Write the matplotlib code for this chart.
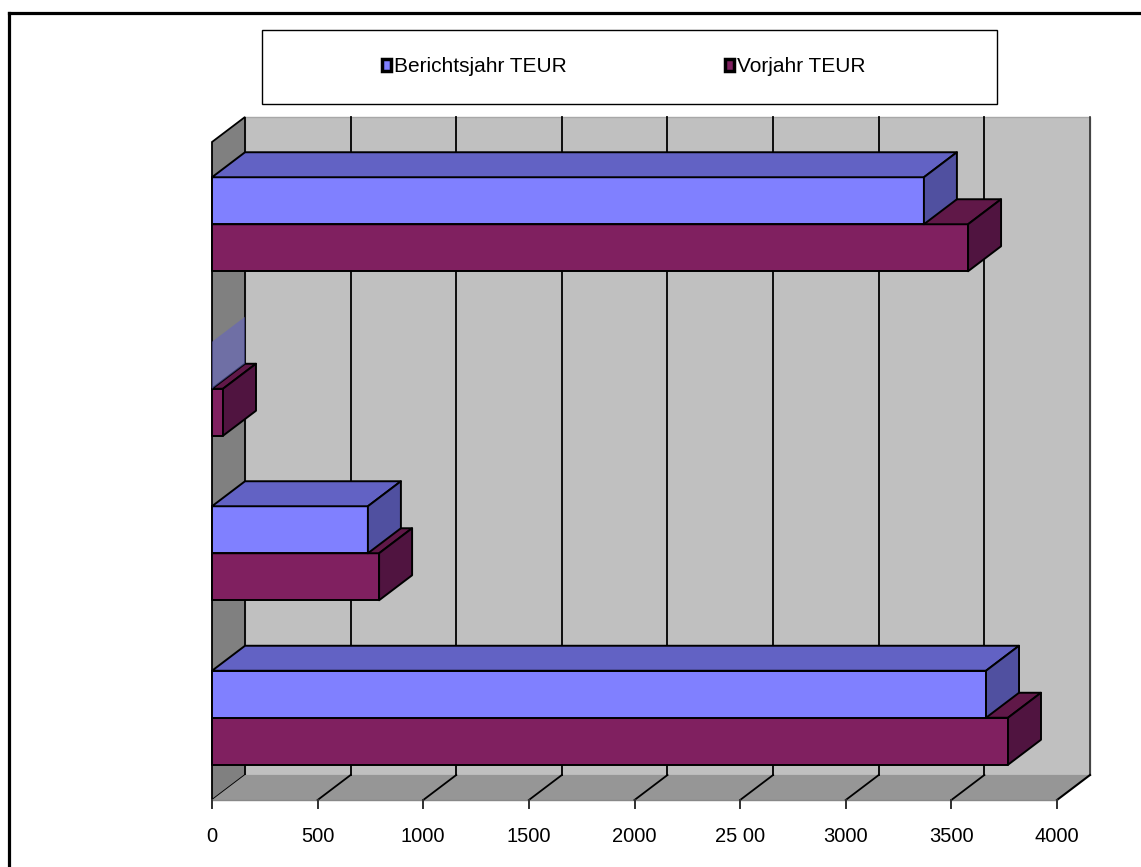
import matplotlib
matplotlib.use('Agg')
import matplotlib.pyplot as plt
from matplotlib.patches import Polygon, Rectangle, Patch
from matplotlib.lines import Line2D

plt.rcParams['font.family'] = ['Liberation Sans', 'DejaVu Sans']

# data (categories from bottom to top, as Excel draws them)
series_names = ['Berichtsjahr TEUR', 'Vorjahr TEUR']
berichtsjahr = [3664, 738, 0, 3370]
vorjahr = [3768, 791, 52, 3579]
ticks = [0, 500, 1000, 1500, 2000, 2500, 3000, 3500, 4000]
tick_labels = ['0', '500', '1000', '1500', '2000', '25 00', '3000', '3500', '4000']

# colours: front, top, side
blue = ('#8080FF', '#6262C4', '#5050A0')
purple = ('#802060', '#601848', '#501440')

W, H = 1141, 867
PX = 0.21125      # pixels per value unit
CAT = 164.5       # pixels per category
X0, YB = 212, 800  # pixel position of the value origin / floor front edge

fig = plt.figure(figsize=(W / 100, H / 100), dpi=100)
ax = fig.add_axes([0, 0, 1, 1])
ax.set_xlim(-X0 / PX, (W - X0) / PX)
ax.set_ylim(-0.5 - (H - YB) / CAT, -0.5 + YB / CAT)
ax.axis('off')

DX = 33 / PX      # depth offset in value units
DY = 25 / CAT     # depth offset in category units
xmax = ticks[-1]
ncat = len(berichtsjahr)
lo, hi = -0.5, ncat - 0.5

# back wall
ax.add_patch(Polygon([(DX, lo + DY), (xmax + DX, lo + DY), (xmax + DX, hi + DY), (DX, hi + DY)],
                     closed=True, facecolor='#C0C0C0', edgecolor='#A8A8A8', lw=1, zorder=1))
ax.plot([xmax + DX, xmax + DX], [lo + DY, hi + DY], color='#303030', lw=1.2, zorder=2)
# left wall
ax.add_patch(Polygon([(0, lo), (0, hi), (DX, hi + DY), (DX, lo + DY)],
                     closed=True, facecolor='#808080', edgecolor='black', lw=1.3, zorder=1))
# floor
ax.add_patch(Polygon([(0, lo), (xmax, lo), (xmax + DX, lo + DY), (DX, lo + DY)],
                     closed=True, facecolor='#969696', edgecolor='none', zorder=1))
ax.plot([xmax, xmax + DX], [lo, lo + DY], color='black', lw=1.5, zorder=2)
ax.plot([0, xmax], [lo, lo], color='#888888', lw=1, zorder=2)

# gridlines on wall and floor
for t in ticks[1:-1]:
    ax.plot([t + DX, t + DX], [lo + DY, hi + DY], color='black', lw=1.3, zorder=2)
    ax.plot([t, t + DX], [lo, lo + DY], color='black', lw=1.3, zorder=2)

# tick marks and labels
for t, lab in zip(ticks, tick_labels):
    ax.plot([t, t], [lo, lo - 8 / CAT], color='#303030', lw=1.4, zorder=2)
    ax.text(t, lo - 37 / CAT, lab, ha='center', va='center', fontsize=14.5, color='black')


def bar3d(v, y0, h, cols, z):
    y1 = y0 + h
    if v <= 0:
        # a zero bar only shows its side face over the left wall
        ax.add_patch(Polygon([(0, y0), (0, y1), (DX, y1 + DY), (DX, y0 + DY)], closed=True,
                             facecolor=cols[1], edgecolor='none', alpha=0.55, zorder=z))
        return
    kw = dict(closed=True, edgecolor='black', lw=1.4, zorder=z, joinstyle='round')
    ax.add_patch(Polygon([(0, y0), (v, y0), (v, y1), (0, y1)], facecolor=cols[0], **kw))
    ax.add_patch(Polygon([(0, y1), (v, y1), (v + DX, y1 + DY), (DX, y1 + DY)], facecolor=cols[1], **kw))
    ax.add_patch(Polygon([(v, y0), (v, y1), (v + DX, y1 + DY), (v + DX, y0 + DY)], facecolor=cols[2], **kw))


bh = 47 / CAT
for i in range(ncat):
    bar3d(vorjahr[i], i - bh, bh, purple, 3 + 2 * i)
    bar3d(berichtsjahr[i], i, bh, blue, 4 + 2 * i)

# legend with its box
fig.patches.append(Rectangle((262 / W, 1 - 104 / H), 735 / W, 74 / H, transform=fig.transFigure,
                             facecolor='white', edgecolor='black', lw=1, zorder=0))
handles = [Patch(facecolor=blue[0], edgecolor='black', lw=2.5),
           Patch(facecolor=purple[0], edgecolor='black', lw=2.5)]
fig.legend(handles, series_names, loc='center', bbox_to_anchor=(624 / W, 1 - 67 / H), ncol=2,
           frameon=False, fontsize=15, handlelength=0.42, handleheight=0.56, handletextpad=0.15,
           columnspacing=7.6)

# outer border (top and left visible)
fig.add_artist(Line2D([9 / W, 1.01], [1 - 13 / H, 1 - 13 / H], transform=fig.transFigure,
                      color='black', lw=2.3))
fig.add_artist(Line2D([9 / W, 9 / W], [1 - 13 / H, -0.01], transform=fig.transFigure,
                      color='black', lw=2.3))

fig.savefig('out.png', dpi=100)
